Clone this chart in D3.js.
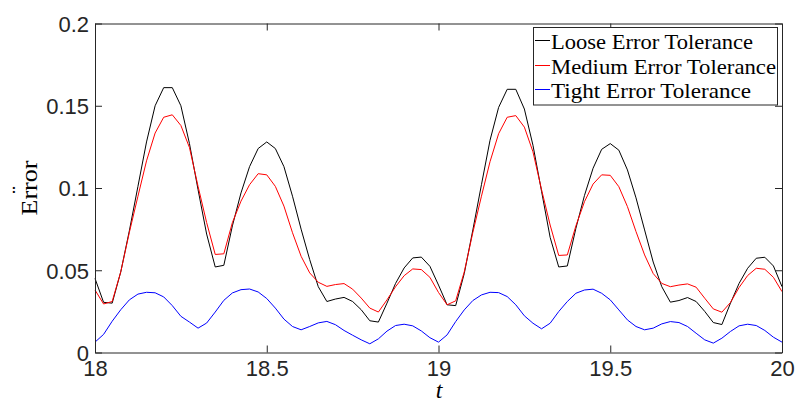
<!DOCTYPE html>
<html>
<head>
<meta charset="utf-8">
<script src="https://cdn.jsdelivr.net/npm/d3@7"></script>
<style>
  html, body { margin: 0; padding: 0; background: #fff; }
  svg { display: block; }
</style>
</head>
<body>
<svg id="chart" width="796" height="403"></svg>
<script>
const tValues = [
  18.000, 18.025, 18.050, 18.075, 18.100, 18.125, 18.150, 18.175, 18.200, 18.225,
  18.250, 18.275, 18.300, 18.325, 18.350, 18.375, 18.400, 18.425, 18.450, 18.475,
  18.500, 18.525, 18.550, 18.575, 18.600, 18.625, 18.650, 18.675, 18.700, 18.725,
  18.750, 18.775, 18.800, 18.825, 18.850, 18.875, 18.900, 18.925, 18.950, 18.975,
  19.000, 19.025, 19.050, 19.075, 19.100, 19.125, 19.150, 19.175, 19.200, 19.225,
  19.250, 19.275, 19.300, 19.325, 19.350, 19.375, 19.400, 19.425, 19.450, 19.475,
  19.500, 19.525, 19.550, 19.575, 19.600, 19.625, 19.650, 19.675, 19.700, 19.725,
  19.750, 19.775, 19.800, 19.825, 19.850, 19.875, 19.900, 19.925, 19.950, 19.975,
  20.000
];

const looseError = [
  0.045, 0.0305, 0.030, 0.049, 0.074, 0.101, 0.128, 0.150, 0.161, 0.161,
  0.150, 0.127, 0.099, 0.072, 0.052, 0.053, 0.077, 0.097, 0.113, 0.124,
  0.128, 0.124, 0.113, 0.095, 0.075, 0.0565, 0.040, 0.031, 0.0325, 0.0335,
  0.031, 0.026, 0.0193, 0.0185, 0.030, 0.042, 0.0514, 0.0575, 0.058, 0.0524,
  0.041, 0.029, 0.0285, 0.048, 0.0745, 0.102, 0.129, 0.149, 0.160, 0.160,
  0.148, 0.126, 0.098, 0.070, 0.052, 0.0526, 0.0755, 0.0955, 0.112, 0.1235,
  0.127, 0.123, 0.111, 0.094, 0.0745, 0.055, 0.040, 0.0306, 0.0316, 0.0334,
  0.031, 0.025, 0.0182, 0.0170, 0.030, 0.042, 0.0512, 0.0573, 0.0579, 0.0526,
  0.040
];

const mediumError = [
  0.038, 0.0295, 0.031, 0.049, 0.073, 0.095, 0.1165, 0.1334, 0.143, 0.1445,
  0.138, 0.1246, 0.101, 0.079, 0.0596, 0.060, 0.079, 0.092, 0.102, 0.1087,
  0.108, 0.101, 0.089, 0.0728, 0.0585, 0.0484, 0.0427, 0.0402, 0.0413, 0.0419,
  0.0385, 0.0331, 0.027, 0.0246, 0.032, 0.040, 0.0467, 0.0508, 0.0504, 0.0457,
  0.0365, 0.029, 0.0314, 0.049, 0.073, 0.095, 0.116, 0.133, 0.143, 0.144,
  0.137, 0.122, 0.099, 0.0775, 0.059, 0.0593, 0.077, 0.0917, 0.1024, 0.108,
  0.1077, 0.1008, 0.0887, 0.0735, 0.0593, 0.048, 0.042, 0.040, 0.041, 0.0417,
  0.0397, 0.033, 0.0265, 0.0245, 0.0304, 0.0395, 0.0468, 0.0512, 0.0506, 0.0457,
  0.037
];

const tightError = [
  0.0063, 0.011, 0.019, 0.026, 0.032, 0.0355, 0.0366, 0.0363, 0.0338, 0.0285,
  0.022, 0.0185, 0.0148, 0.0179, 0.0246, 0.0317, 0.0362, 0.0382, 0.0386, 0.0368,
  0.0328, 0.027, 0.0203, 0.0158, 0.0138, 0.0158, 0.018, 0.0189, 0.0169, 0.0134,
  0.0105, 0.0077, 0.0053, 0.0083, 0.013, 0.0164, 0.0172, 0.0162, 0.0131, 0.009,
  0.0063, 0.0107, 0.0188, 0.0259, 0.0316, 0.035, 0.0366, 0.0364, 0.034, 0.029,
  0.0223, 0.0178, 0.0144, 0.0178, 0.0249, 0.031, 0.036, 0.038, 0.0385, 0.036,
  0.032, 0.0259, 0.0198, 0.0158, 0.0138, 0.0148, 0.0174, 0.0188, 0.0182, 0.0158,
  0.0117, 0.0077, 0.0057, 0.0087, 0.0128, 0.0162, 0.0172, 0.0164, 0.0134, 0.0093,
  0.0063
];

const seriesNames = ["Loose Error Tolerance", "Medium Error Tolerance", "Tight Error Tolerance"];
const seriesColors = ["#000000", "#ff0000", "#0000ff"];
const xTicks = [18, 18.5, 19, 19.5, 20];
const xTickLabels = ["18", "18.5", "19", "19.5", "20"];
const yTicks = [0, 0.05, 0.1, 0.15, 0.2];
const yTickLabels = ["0", "0.05", "0.1", "0.15", "0.2"];

const svg = d3.select("#chart");
const L = 95, R = 782, T = 23.5, B = 352.5;
const axisColor = "#262626";
const tickFont = "'Liberation Sans', Arial, Helvetica, sans-serif";
const serifFont = "'Liberation Serif', 'Times New Roman', serif";

const x = d3.scaleLinear().domain([18, 20]).range([L, R]);
const y = d3.scaleLinear().domain([0, 0.2]).range([B, T]);

const allSeries = [looseError, mediumError, tightError];

// lines
const line = d3.line().x((d, i) => x(tValues[i])).y(d => y(d));
const plot = svg.append("g");
allSeries.forEach((vals, k) => {
  plot.append("path")
    .datum(vals)
    .attr("fill", "none")
    .attr("stroke", seriesColors[k])
    .attr("stroke-width", 1)
    .attr("stroke-linejoin", "miter")
    .attr("d", line);
});

// axes
function styleAxis(g) {
  g.selectAll(".domain").attr("stroke", axisColor).attr("stroke-width", 1);
  g.selectAll(".tick line").attr("stroke", axisColor).attr("stroke-width", 1);
  g.selectAll(".tick text").attr("fill", axisColor)
    .style("font-family", tickFont).style("font-size", "22px");
}

const xBottom = svg.append("g").attr("transform", `translate(0,${B})`)
  .call(d3.axisBottom(x).tickValues(xTicks).tickFormat((d, i) => xTickLabels[i])
    .tickSizeInner(-7).tickSizeOuter(0).tickPadding(8));
styleAxis(xBottom);

const xTop = svg.append("g").attr("transform", `translate(0,${T})`)
  .call(d3.axisTop(x).tickValues(xTicks).tickFormat("")
    .tickSizeInner(-7).tickSizeOuter(0));
styleAxis(xTop);

const yLeft = svg.append("g").attr("transform", `translate(${L},0)`)
  .call(d3.axisLeft(y).tickValues(yTicks).tickFormat((d, i) => yTickLabels[i])
    .tickSizeInner(-7).tickSizeOuter(0).tickPadding(6));
styleAxis(yLeft);
yLeft.selectAll(".tick text").attr("dy", "0.36em");

const yRight = svg.append("g").attr("transform", `translate(${R},0)`)
  .call(d3.axisRight(y).tickValues(yTicks).tickFormat("")
    .tickSizeInner(-7).tickSizeOuter(0));
styleAxis(yRight);

// axis labels
svg.append("text")
  .attr("x", 439).attr("y", 398)
  .attr("text-anchor", "middle")
  .style("font-family", serifFont).style("font-style", "italic").style("font-size", "24px")
  .attr("fill", "#000")
  .text("t");

svg.append("text")
  .attr("transform", "translate(37,188) rotate(-90)")
  .attr("text-anchor", "middle")
  .style("font-family", serifFont).style("font-size", "23px")
  .attr("fill", "#000")
  .attr("textLength", 55).attr("lengthAdjust", "spacingAndGlyphs")
  .text("Error");
svg.append("text")
  .attr("transform", "translate(27,190) rotate(-90)")
  .attr("text-anchor", "middle")
  .style("font-family", serifFont).style("font-size", "23px")
  .attr("fill", "#000")
  .text("\u00A8");

// legend
const lg = svg.append("g");
lg.append("rect")
  .attr("x", 533.5).attr("y", 27.5).attr("width", 244).attr("height", 77.5)
  .attr("fill", "#fff").attr("stroke", axisColor).attr("stroke-width", 1);
const rowY = [40.5, 65.5, 89.5];
const textLens = [202, 225, 200];
seriesNames.forEach((name, k) => {
  lg.append("line")
    .attr("x1", 535).attr("x2", 550)
    .attr("y1", rowY[k]).attr("y2", rowY[k])
    .attr("stroke", seriesColors[k]).attr("stroke-width", 1);
  lg.append("text")
    .attr("x", 551).attr("y", rowY[k] + 8)
    .style("font-family", serifFont).style("font-size", "22px")
    .attr("fill", "#000")
    .attr("textLength", textLens[k]).attr("lengthAdjust", "spacingAndGlyphs")
    .text(name);
});
</script>
</body>
</html>
